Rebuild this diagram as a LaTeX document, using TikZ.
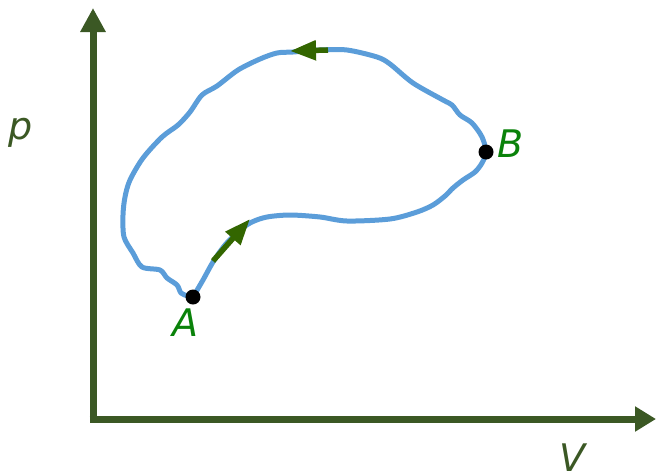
\documentclass[tikz,border=0pt]{standalone}
\usepackage{fontspec}
\setmainfont{DejaVu Sans}
\usetikzlibrary{arrows.meta}
\definecolor{axisgreen}{RGB}{59,88,36}
\definecolor{curveblue}{RGB}{91,157,217}
\definecolor{arrowgreen}{RGB}{51,102,0}
\definecolor{labelgreen}{RGB}{10,130,10}
\tikzset{
  axisline/.style={draw=axisgreen, line width=7pt},
  cycleline/.style={draw=curveblue, line width=5pt, line join=round, line cap=round},
  dirarrow/.style={draw=arrowgreen, line width=5.5pt, -{Triangle[length=26pt,width=19pt]}, arrowgreen},
  statept/.style={circle, fill=black, inner sep=0pt, minimum size=15pt},
  axislabel/.style={inner sep=0pt, text=axisgreen, font=\fontsize{38}{40}\selectfont\itshape},
  ptlabel/.style={inner sep=0pt, text=labelgreen, font=\fontsize{38}{40}\selectfont\itshape}
}
\begin{document}
\begin{tikzpicture}[x=1pt,y=-1pt]
\useasboundingbox (0,0) rectangle (656,472);
% axes
\coordinate (O) at (93,419);
\coordinate (Ptop) at (93,8);
\coordinate (Vend) at (656,419);
\draw[axisline, -{Triangle[length=24pt,width=24pt]}] (93,419) -- (Ptop);
\draw[axisline, -{Triangle[length=21pt,width=24pt]}] (89.5,419) -- (Vend);
% cycle
\draw[cycleline] plot[smooth, tension=0.5] coordinates {
 (193,297) (203,280) (213,262) (225,245) (240,230) (252,222) (267,217) (290,215)
 (320,217) (347,221) (390,219) (417,212) (433,205) (445,196) (453,188) (463,180)
 (475,172) (482,163) (486,152) (482,137) (472,123) (460,115) (452,105) (443,100)
 (413,83) (390,64) (377,57) (347,50) (320,50) (293,52) (277,53) (260,59) (238,70)
 (217,86) (202,95) (190,112) (178,125) (162,137) (143,158) (130,180) (125,197)
 (123,215) (124,237) (133,253) (142,267) (160,270) (167,278) (177,285) (181,293)
 (188,296) (193,297)};
% direction arrows
\coordinate (a1s) at (213,261);
\coordinate (a1e) at (250,219);
\coordinate (a2s) at (328,50);
\coordinate (a2e) at (290,51);
\draw[dirarrow] (a1s) -- (a1e);
\draw[dirarrow] (a2s) -- (a2e);
% states
\node[statept] (A) at (193,297) {};
\node[statept] (B) at (486,152) {};
\node[ptlabel, anchor=base] (Alab) at (185,336) {A};
\node[ptlabel, anchor=base west] (Blab) at (497,157) {B};
\node[axislabel, anchor=base] (plab) at (21,139) {p};
\node[axislabel, anchor=base] (Vlab) at (572,471) {V};
\end{tikzpicture}
\end{document}
